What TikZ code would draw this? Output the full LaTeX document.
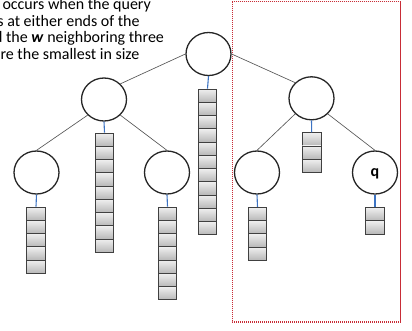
\documentclass[tikz,border=0pt]{standalone}
\usepackage{fontspec}
\setmainfont{Carlito}
\usetikzlibrary{shapes.geometric}
\definecolor{edgegray}{RGB}{85,85,85}
\definecolor{linkblue}{RGB}{60,115,195}
\definecolor{boxred}{RGB}{200,45,55}
\newcommand\mystack[4]{%
  \foreach \i in {1,...,#4}
    \node[cell] (#1-\i) at (#2, #3+13.25*\i-6.625) {};}
\begin{document}
\begin{tikzpicture}[x=1pt,y=-1pt,
  tnode/.style={ellipse, draw=black!85, line width=1.3pt, minimum width=45pt, minimum height=43pt, inner sep=0pt},
  cell/.style={rectangle, draw=black!75, line width=0.9pt, top color=black!6, bottom color=black!28, minimum width=18.5pt, minimum height=13.25pt, inner sep=0pt},
  edge/.style={draw=edgegray, line width=0.65pt},
  link/.style={draw=linkblue, line width=1.1pt},
  frame/.style={draw=boxred, line width=1.5pt, dash pattern=on 1.1pt off 0.9pt},
  txt/.style={font=\fontsize{16}{17}\selectfont, anchor=base, inner sep=0pt}]
\useasboundingbox (0,0) rectangle (412,330);

% text
\node[txt] (t1) at (76.7,9.5) {occurs when the query};
\node[txt] (t2) at (68.5,26.2) {s at either ends of the};
\node[txt] (t3) at (79,42.9) {d the \textbf{\textit{w}} neighboring three};
\node[txt] (t4) at (70,59.6) {re the smallest in size};

% frame
\draw[frame] (232.3,1.7) rectangle (400.5,322);

% tree nodes
\node[tnode] (root) at (208.5,54) {};
\node[tnode] (L) at (104,99.5) {};
\node[tnode] (R) at (311.5,98.3) {};
\node[tnode] (LL) at (36.5,172.5) {};
\node[tnode] (LR) at (167,172.5) {};
\node[tnode] (RL) at (257,172.5) {};
\node[tnode, font=\fontsize{16}{16}\selectfont\bfseries] (Q) at (375,172.5) {\raisebox{-4pt}[0pt][0pt]{q}};

% edges
\draw[edge] (root.west) -- (L.north east);
\draw[edge] (root.east) -- (R.north west);
\draw[edge] (L.south west) -- (LL.north);
\draw[edge] (L.south east) -- (LR.north);
\draw[edge] (R.south west) -- (RL.north);
\draw[edge] (R.south east) -- (Q.north);

% stacks
\mystack{sroot}{207.5}{89}{11}
\mystack{sL}{104.5}{133}{9}
\mystack{sR}{311.7}{132.7}{3}
\mystack{sLL}{36}{207}{5}
\mystack{sLR}{167.5}{207}{7}
\mystack{sRL}{257.5}{207.3}{4}
\mystack{sQ}{375}{207.5}{2}

% links
\draw[link] (root.south) -- (sroot-1.north);
\draw[link] (L.south) -- (sL-1.north);
\draw[link] (R.south) -- (sR-1.north);
\draw[link] (LL.south) -- (sLL-1.north);
\draw[link] (LR.south) -- (sLR-1.north);
\draw[link] (RL.south) -- (sRL-1.north);
\draw[link] (Q.south) -- (sQ-1.north);
\end{tikzpicture}
\end{document}
